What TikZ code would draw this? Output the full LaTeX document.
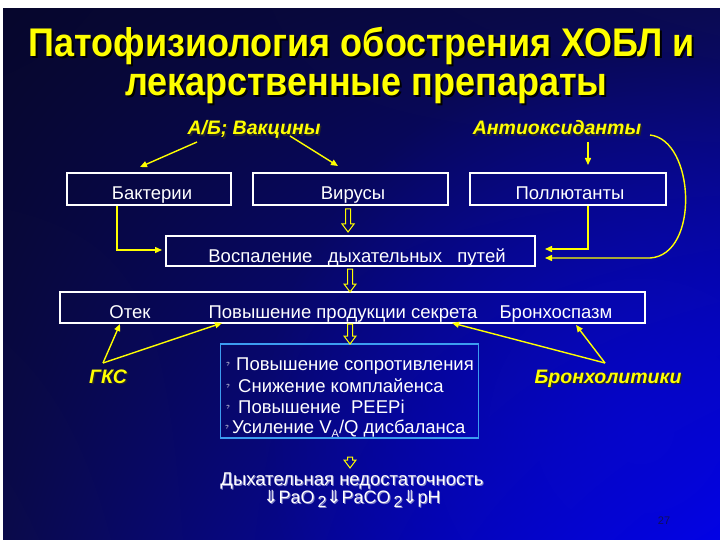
\documentclass[tikz,border=0pt]{standalone}
\usepackage{graphicx}
\usepackage{fontspec}
\setmainfont{Liberation Sans}
\newfontfamily\arrowfont{DejaVu Sans}
\usetikzlibrary{arrows.meta,shadings,fadings}
\definecolor{ylw}{HTML}{FFFF00}
\definecolor{bgUL}{HTML}{06062C}
\definecolor{bgUR}{HTML}{0A0A52}
\definecolor{bgLL}{HTML}{0A0A4A}
\definecolor{bgLR}{HTML}{0000EE}
\definecolor{glow}{HTML}{0808D8}
\definecolor{boxblue}{HTML}{3C9CF0}
\definecolor{pgnum}{HTML}{10105C}
\definecolor{lav}{HTML}{8080C8}
\tikzfading[name=glowfade, inner color=transparent!0, outer color=transparent!100]
\newcommand\lowsub[1]{\raisebox{-4.5pt}{#1}}
\newcommand\dnarr{{\arrowfont ⇓}}
\newcommand\hlen{23}
\tikzset{
  ttl/.style={font=\fontsize{40}{40}\selectfont\bfseries, text=ylw, inner sep=0, anchor=base},
  ttlsh/.style={ttl, text=black},
  drug/.style={font=\fontsize{19.5}{19.5}\selectfont\bfseries\itshape, text=ylw, inner sep=0, anchor=base},
  drugsh/.style={drug, text=black!85},
  wbox/.style={draw=white, line width=1.4pt, inner sep=0},
  bbox/.style={draw=boxblue, line width=1.4pt, inner sep=0},
  btext/.style={text=white, font=\fontsize{18.5}{18.5}\selectfont, inner sep=0, anchor=base},
  ltext/.style={btext, font=\fontsize{18.5}{18.5}\selectfont, anchor=base west},
  bul/.style={text=white, font=\fontsize{6}{6}\selectfont, inner sep=0},
  yarr/.style={draw=ylw, line width=1.4pt, -{Triangle[length=7pt,width=6pt]}},
  hollow/.pic={\draw[ylw, line width=1pt, fill=none]
     (-2.5,0) -- (-2.5,\hlen-8) -- (-6,\hlen-8) -- (0,\hlen) -- (6,\hlen-8) -- (2.5,\hlen-8) -- (2.5,0) -- cycle;}
}
\begin{document}
\begin{tikzpicture}[x=1pt,y=-1pt]
\useasboundingbox (0,0) rectangle (720,540);
\fill[white] (0,0) rectangle (720,540);
\shade[upper left=bgUL, upper right=bgUR, lower left=bgLL, lower right=bgLR] (3,9) rectangle (720,540);
\begin{scope}
\clip (3,9) rectangle (720,540);
\fill[glow, path fading=glowfade, fill opacity=0.55] (640,430) circle (380);
\end{scope}

% title
\node[ttlsh] (t1s) at (363.5,59) {\scalebox{0.9}[1]{Патофизиология обострения ХОБЛ и}};
\node[ttl] (t1) at (361.5,57) {\scalebox{0.9}[1]{Патофизиология обострения ХОБЛ и}};
\node[ttlsh] (t2s) at (368.5,98) {\scalebox{0.9}[1]{лекарственные препараты}};
\node[ttl] (t2) at (366.5,96) {\scalebox{0.9}[1]{лекарственные препараты}};

% drug labels
\node[drugsh] (abs) at (255.5,136.5) {А/Б; Вакцины};
\node[drug] (ab) at (254,135) {А/Б; Вакцины};
\node[drugsh] (antis) at (558.5,136.5) {Антиоксиданты};
\node[drug] (anti) at (557,135) {Антиоксиданты};
\node[drugsh] (gkss) at (109.5,384.5) {ГКС};
\node[drug] (gks) at (108,383) {ГКС};
\node[drugsh] (bronhs) at (609.5,384.5) {Бронхолитики};
\node[drug] (bronh) at (608,383) {Бронхолитики};

% boxes
\node[wbox, minimum width=164, minimum height=32] (bak) at (149,189) {};
\node[wbox, minimum width=195, minimum height=32] (vir) at (350.5,189) {};
\node[wbox, minimum width=196, minimum height=32] (pol) at (568,189) {};
\node[wbox, minimum width=369, minimum height=30] (vos) at (350.5,251) {};
\node[wbox, minimum width=585, minimum height=31] (row) at (352.5,307.5) {};
\node[bbox, minimum width=258, minimum height=94] (blu) at (349.5,391) {};

% box texts
\node[btext] (bakt) at (152,200) {Бактерии};
\node[btext] (virt) at (353,200) {Вирусы};
\node[btext] (polt) at (570,200) {Поллютанты};
\node[btext] (vost) at (357,262) {Воспаление\ \ \ дыхательных\ \ \ путей};
\node[btext] (otek) at (130,318) {Отек};
\node[btext] (sekr) at (343,318) {Повышение продукции секрета};
\node[btext] (bsp) at (556,318) {Бронхоспазм};

% blue box lines
\node[bul] (b1) at (228,364) {?};
\node[ltext] (l1) at (236,370) {Повышение сопротивления};
\node[bul] (b2) at (228,386) {?};
\node[ltext] (l2) at (238,392) {Снижение комплайенса};
\node[bul] (b3) at (228,407) {?};
\node[ltext] (l3) at (238,413) {Повышение\ \ PEEPi};
\node[bul] (b4) at (227,427) {?};
\node[ltext] (l4) at (232,433) {Усиление V\lowsub{\fontsize{11}{11}\selectfont A}/Q дисбаланса};

% final
\node[btext, text=lav] (dns) at (353,486) {Дыхательная недостаточность};
\node[btext] (dn) at (352,485) {Дыхательная недостаточность};
\node[btext, text=lav, font=\fontsize{18}{18}\selectfont] (gass) at (353,504) {\dnarr PaO\,\lowsub{\fontsize{16}{16}\selectfont 2}\dnarr PaCO\,\lowsub{\fontsize{16}{16}\selectfont 2}\dnarr pH};
\node[btext, font=\fontsize{18}{18}\selectfont] (gas) at (352,503) {\dnarr PaO\,\lowsub{\fontsize{16}{16}\selectfont 2}\dnarr PaCO\,\lowsub{\fontsize{16}{16}\selectfont 2}\dnarr pH};

\node[text=pgnum, font=\fontsize{11}{11}\selectfont, inner sep=0] (pg) at (664,521) {27};

% connectors
\coordinate (abL) at (197,142);
\coordinate (abR) at (290,136);
\coordinate (bakIn) at (140,167);
\coordinate (virIn) at (338,166);
\draw[yarr] (abL) -- (bakIn);
\draw[yarr] (abR) -- (virIn);
\coordinate (antiB) at (588,142);
\coordinate (polIn) at (588,165);
\draw[yarr] (antiB) -- (polIn);
\coordinate (antiE) at (650,135);
\coordinate (vosR2) at (545,258);
\draw[yarr] (antiE) .. controls (695,140) and (700,255) .. (650,258) -- (vosR2);
\coordinate (polB) at (588,206);
\coordinate (vosR1) at (545,249);
\draw[yarr] (polB) |- (vosR1);
\coordinate (bakB) at (117,206);
\coordinate (vosL) at (162,250);
\draw[yarr] (bakB) |- (vosL);
\coordinate (gksT) at (103,363);
\coordinate (otekIn) at (120,324);
\coordinate (sekrIn) at (222,323);
\draw[yarr] (gksT) -- (otekIn);
\draw[yarr] (gksT) -- (sekrIn);
\coordinate (brT) at (605,363);
\coordinate (bspIn) at (576,325);
\coordinate (sekrIn2) at (452,323);
\draw[yarr] (brT) -- (bspIn);
\draw[yarr] (brT) -- (sekrIn2);

% hollow arrows
\pic at (348,209) {hollow};
\pic at (350,269) {hollow};
\renewcommand\hlen{20}
\pic at (350,324) {hollow};
\renewcommand\hlen{11}
\pic at (350,457) {hollow};
\end{tikzpicture}
\end{document}
